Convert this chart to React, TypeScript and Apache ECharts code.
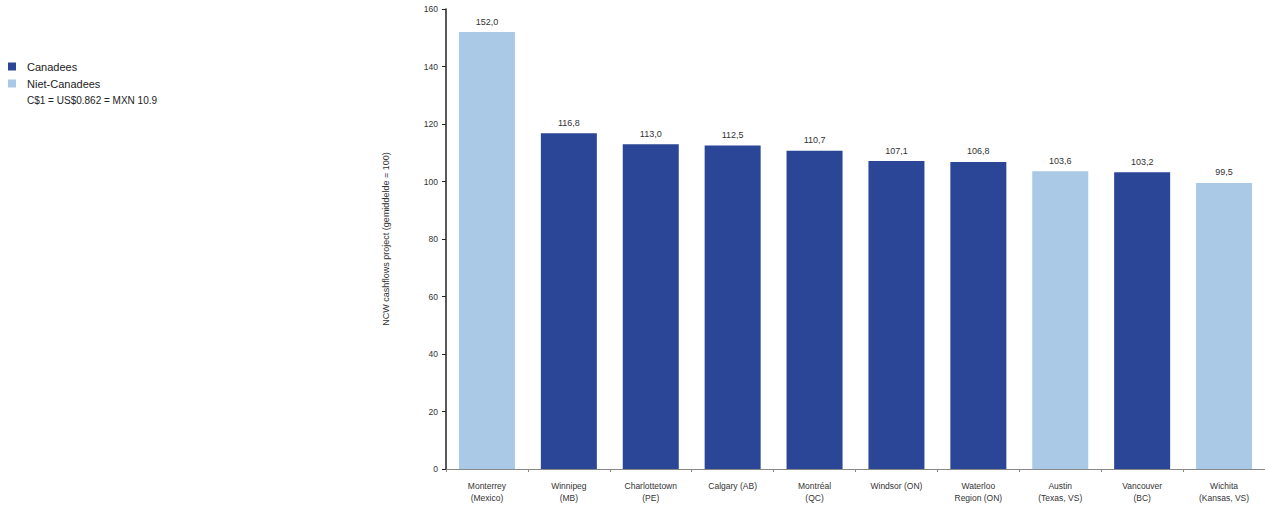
import React, { useEffect, useRef } from "react";
import * as echarts from "echarts";

const categories = [
  "Monterrey\n(Mexico)",
  "Winnipeg\n(MB)",
  "Charlottetown\n(PE)",
  "Calgary (AB)",
  "Montréal\n(QC)",
  "Windsor (ON)",
  "Waterloo\nRegion (ON)",
  "Austin\n(Texas, VS)",
  "Vancouver\n(BC)",
  "Wichita\n(Kansas, VS)",
];
const values = [152.0, 116.8, 113.0, 112.5, 110.7, 107.1, 106.8, 103.6, 103.2, 99.5];
const isCanadian = [false, true, true, true, true, true, true, false, true, false];
const seriesNames = ["Canadees", "Niet-Canadees"];
const noteText = "C$1 = US$0.862 = MXN 10.9";
const yAxisName = "NCW cashflows project (gemiddelde = 100)";

const DARK = "#2b4597";
const LIGHT = "#a9c9e6";
const FONT = "Liberation Sans, Arial, sans-serif";

export default function App() {
  const ref = useRef<HTMLDivElement>(null);
  useEffect(() => {
    const chart = echarts.init(ref.current!, null, { renderer: "svg" });
    const label = {
      show: true,
      position: "top",
      distance: 6,
      fontSize: 9,
      color: "#333",
      fontFamily: FONT,
      formatter: (p: any) => p.value.toFixed(1).replace(".", ","),
    };
    chart.setOption({
      animation: false,
      backgroundColor: "#ffffff",
      textStyle: { fontFamily: FONT },
      legend: {
        orient: "vertical",
        left: 8,
        top: 61,
        padding: 0,
        itemWidth: 8,
        itemHeight: 8,
        itemGap: 6,
        textStyle: { fontSize: 11, color: "#222", fontFamily: FONT, padding: [0, 0, 0, 6] },
        data: [
          { name: seriesNames[0], icon: "rect" },
          { name: seriesNames[1], icon: "rect" },
        ],
      },
      graphic: [
        {
          type: "text",
          left: 27,
          top: 95,
          style: { text: noteText, fontSize: 10, fill: "#222", fontFamily: FONT },
        },
      ],
      grid: { left: 446, top: 9, width: 824, height: 460 },
      xAxis: {
        type: "category",
        data: categories,
        axisLine: { lineStyle: { color: "#888" } },
        axisTick: { show: true, length: 3, lineStyle: { color: "#888" } },
        axisLabel: { fontSize: 8.5, color: "#333", lineHeight: 12, margin: 11, interval: 0, fontFamily: FONT },
      },
      yAxis: {
        type: "value",
        min: 0,
        max: 160,
        interval: 20,
        name: yAxisName,
        nameLocation: "middle",
        nameGap: 56,
        nameTextStyle: { fontSize: 9, color: "#333", fontFamily: FONT },
        axisLine: { show: true, lineStyle: { color: "#222", width: 1.5 } },
        axisTick: { show: true, length: 4, lineStyle: { color: "#222" } },
        axisLabel: { fontSize: 8.5, color: "#333", margin: 8, fontFamily: FONT },
        splitLine: { show: false },
      },
      series: [
        {
          name: seriesNames[0],
          type: "bar",
          barWidth: 56,
          barGap: "-100%",
          itemStyle: { color: DARK },
          label,
          data: values.map((v, i) => (isCanadian[i] ? v : "-")),
        },
        {
          name: seriesNames[1],
          type: "bar",
          barWidth: 56,
          barGap: "-100%",
          itemStyle: { color: LIGHT },
          label,
          data: values.map((v, i) => (isCanadian[i] ? "-" : v)),
        },
      ],
    });
    return () => chart.dispose();
  }, []);
  return (
    <div
      ref={ref}
      style={{ position: "fixed", left: 0, top: 0, width: 1265, height: 512 }}
    />
  );
}
